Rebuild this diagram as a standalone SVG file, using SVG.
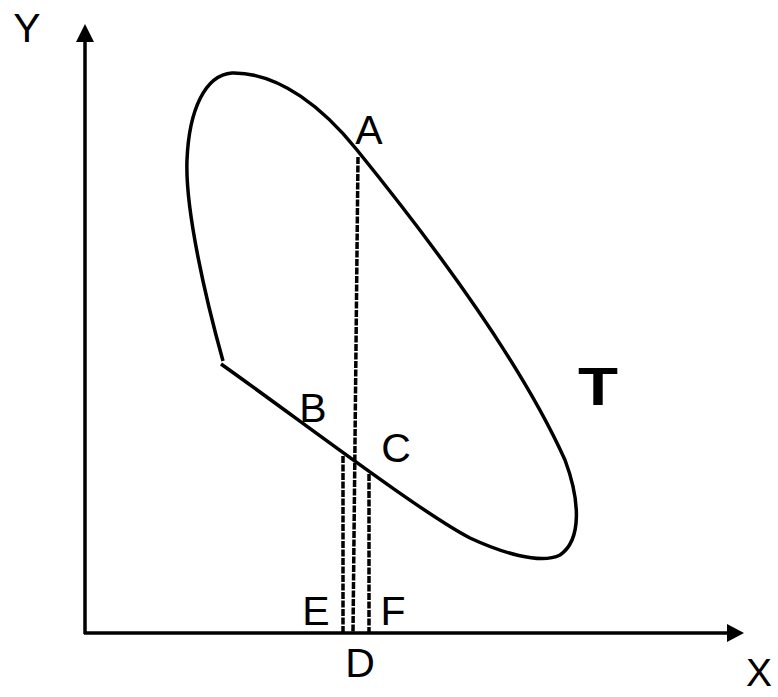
<svg xmlns="http://www.w3.org/2000/svg" width="778" height="697" viewBox="0 0 778 697">
<style>
.ax{stroke:#000;stroke-width:3.5;fill:none}
.cv{stroke:#000;stroke-width:3.5;fill:none;stroke-linecap:butt}
.ds{stroke:#000;stroke-width:3.5;fill:none;stroke-dasharray:7 1.5}
.lb{font-family:"Liberation Sans",Arial,sans-serif;font-size:41px;fill:#000;text-anchor:middle}
.tb{font-family:"Liberation Sans",Arial,sans-serif;font-size:53px;font-weight:bold;fill:#000}
</style>
<rect width="778" height="697" fill="#fff"/>
<g id="axes">
<line class="ax" x1="85" y1="40" x2="85" y2="634"/>
<polygon points="85,24 76,42 94,42" fill="#000"/>
<line class="ax" x1="84" y1="633" x2="729" y2="633"/>
<polygon points="744,633 727,624 727,642" fill="#000"/>
<text class="lb" x="27" y="42">Y</text>
<text class="lb" x="759" y="686" style="font-size:39px">X</text>
</g>
<g id="curve-T">
<path class="cv" d="M223,361 C206,300 185,210 187,160 C189,110 205,75 232,73 C280,72 325,110 357,150 C430,240 520,360 565,460 C580,500 582,540 560,555 C540,565 500,552 470,538 C420,512 300,420 221,364"/>
<text class="tb" x="578" y="405" textLength="40" lengthAdjust="spacingAndGlyphs">T</text>
</g>
<g id="connectors">
<line class="ds" x1="358" y1="157" x2="353" y2="632"/>
<line class="ds" x1="343" y1="456" x2="343" y2="632"/>
<line class="ds" x1="369" y1="474" x2="369" y2="632"/>
</g>
<g id="labels">
<text class="lb" x="369" y="144">A</text>
<text class="lb" x="313" y="422">B</text>
<text class="lb" x="396" y="462">C</text>
<text class="lb" x="316" y="625">E</text>
<text class="lb" x="393" y="625">F</text>
<text class="lb" x="360" y="677">D</text>
</g>
</svg>
